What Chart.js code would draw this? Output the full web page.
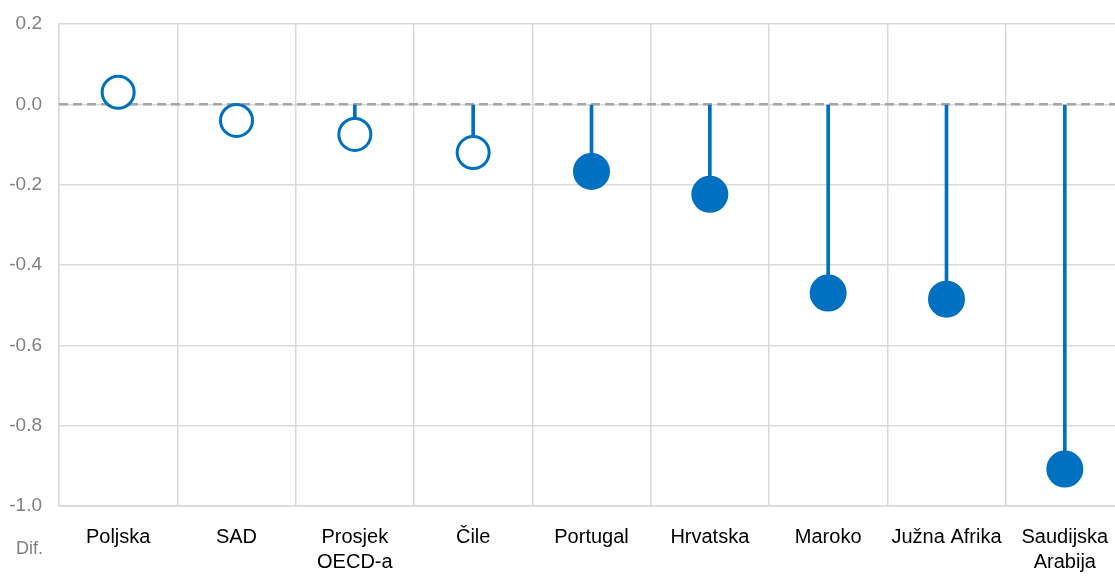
<!DOCTYPE html>
<html>
<head>
<meta charset="utf-8">
<script src="https://cdn.jsdelivr.net/npm/chart.js@4.4.1/dist/chart.umd.min.js"></script>
<style>
  html, body { margin: 0; padding: 0; background: #fff; overflow: hidden; }
  canvas { display: block; }
</style>
</head>
<body>
<canvas id="chart" width="1144" height="577"></canvas>
<script>
const categories = ['Poljska', 'SAD', ['Prosjek', 'OECD-a'], 'Čile', 'Portugal', 'Hrvatska', 'Maroko', 'Južna Afrika', ['Saudijska', 'Arabija']];
const diffValues = [0.03, -0.04, -0.075, -0.12, -0.167, -0.224, -0.47, -0.485, -0.908];
const filled = [false, false, false, false, true, true, true, true, true];
const yTicks = [0.2, 0.0, -0.2, -0.4, -0.6, -0.8, -1.0];
const yLabel = 'Dif.';

const blue = '#0070C0';
const font = '"Liberation Sans", Arial, sans-serif';

// dashed zero line, under the markers
const zeroLine = {
  id: 'zeroLine',
  beforeDatasetsDraw(chart) {
    const { ctx, chartArea, scales } = chart;
    const y = scales.y.getPixelForValue(0);
    ctx.save();
    ctx.strokeStyle = '#A6A6A6';
    ctx.lineWidth = 2.5;
    ctx.setLineDash([9, 5]);
    ctx.beginPath();
    ctx.moveTo(chartArea.left, y);
    ctx.lineTo(chartArea.right, y);
    ctx.stroke();
    ctx.restore();
  },
  afterDraw(chart) {
    const { ctx } = chart;
    ctx.save();
    ctx.fillStyle = '#808080';
    ctx.font = '18px ' + font;
    ctx.textAlign = 'right';
    ctx.textBaseline = 'middle';
    ctx.fillText(yLabel, 43, 549);
    ctx.restore();
  }
};

new Chart(document.getElementById('chart'), {
  type: 'bar',
  data: {
    labels: categories,
    datasets: [
      {
        type: 'line',
        data: diffValues,
        showLine: false,
        pointRadius: filled.map(f => f ? 17 : 16),
        pointHoverRadius: filled.map(f => f ? 17 : 16),
        pointBorderWidth: 3,
        pointBorderColor: blue,
        pointBackgroundColor: filled.map(f => f ? blue : '#ffffff'),
        order: 0
      },
      {
        data: diffValues.map(v => [0, v]),
        backgroundColor: blue,
        barThickness: 3,
        order: 1
      }
    ]
  },
  options: {
    responsive: false,
    animation: false,
    layout: { padding: { top: 24, right: 1, left: 0, bottom: 0 } },
    plugins: {
      legend: { display: false },
      tooltip: { enabled: false }
    },
    scales: {
      x: {
        grid: { color: '#D9D9D9', lineWidth: 1.5, offset: true, drawTicks: false },
        border: { color: '#D9D9D9', width: 1.5 },
        ticks: {
          color: '#000',
          font: { family: font, size: 20, lineHeight: 1.25 },
          padding: 19,
          maxRotation: 0,
          autoSkip: false
        },
        afterFit: s => { s.height = 71; }
      },
      y: {
        min: -1.0,
        max: 0.2,
        afterBuildTicks: s => { s.ticks = yTicks.map(v => ({ value: v })); },
        grid: { color: '#D9D9D9', lineWidth: 1.5, drawTicks: false },
        border: { color: '#D9D9D9', width: 1.5 },
        ticks: {
          color: '#808080',
          font: { family: font, size: 19 },
          padding: 17,
          callback: v => v.toFixed(1)
        },
        afterFit: s => { s.width = 59; s.paddingTop = 0; s.paddingBottom = 0; }
      }
    }
  },
  plugins: [zeroLine]
});
</script>
</body>
</html>
